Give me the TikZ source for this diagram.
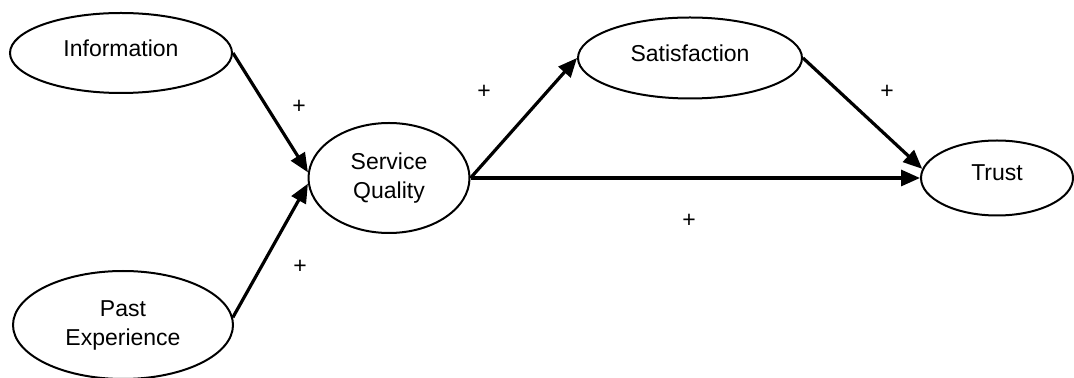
\documentclass[tikz,border=0pt]{standalone}
\usepackage{fontspec}
\setmainfont{Liberation Sans}
\usetikzlibrary{shapes.geometric,arrows.meta}
\tikzset{
  construct/.style={draw, ellipse, line width=1pt, inner sep=0pt, align=center},
  oneline/.style={text depth=5pt},
  link/.style={line width=1.6pt, -{Triangle[length=9.5pt,width=8pt]}},
}

\begin{document}
\begin{tikzpicture}[x=0.5pt, y=-0.5pt, font=\fontsize{11.5}{14.5}\selectfont]
    \useasboundingbox (0,0) rectangle (1074,378);
    \node[construct, oneline, minimum width=111pt, minimum height=40pt] (info) at (121,53) {Information};
    \node[construct, minimum width=110pt, minimum height=54pt] (past) at (123,325) {Past\\Experience};
    \node[construct, minimum width=80.5pt, minimum height=55pt] (sq) at (389,178) {Service\\Quality};
    \node[construct, oneline, minimum width=112pt, minimum height=40.5pt] (sat) at (690,58) {Satisfaction};
    \node[construct, oneline, minimum width=76pt, minimum height=37.5pt] (trust) at (997,178) {Trust};
    \draw[link] (info.east) -- (sq.176);
    \draw[link] (past.4) -- (sq.184);
    \draw[link] (sq.east) -- (sat.west);
    \draw[link] (sq.east) -- (trust.west);
    \draw[link] (sat.east) -- (trust.173);
    \node at (299,107) {+};
    \node at (300,267) {+};
    \node at (484,92) {+};
    \node at (887,92) {+};
    \node at (689,221) {+};
\end{tikzpicture}
\end{document}
